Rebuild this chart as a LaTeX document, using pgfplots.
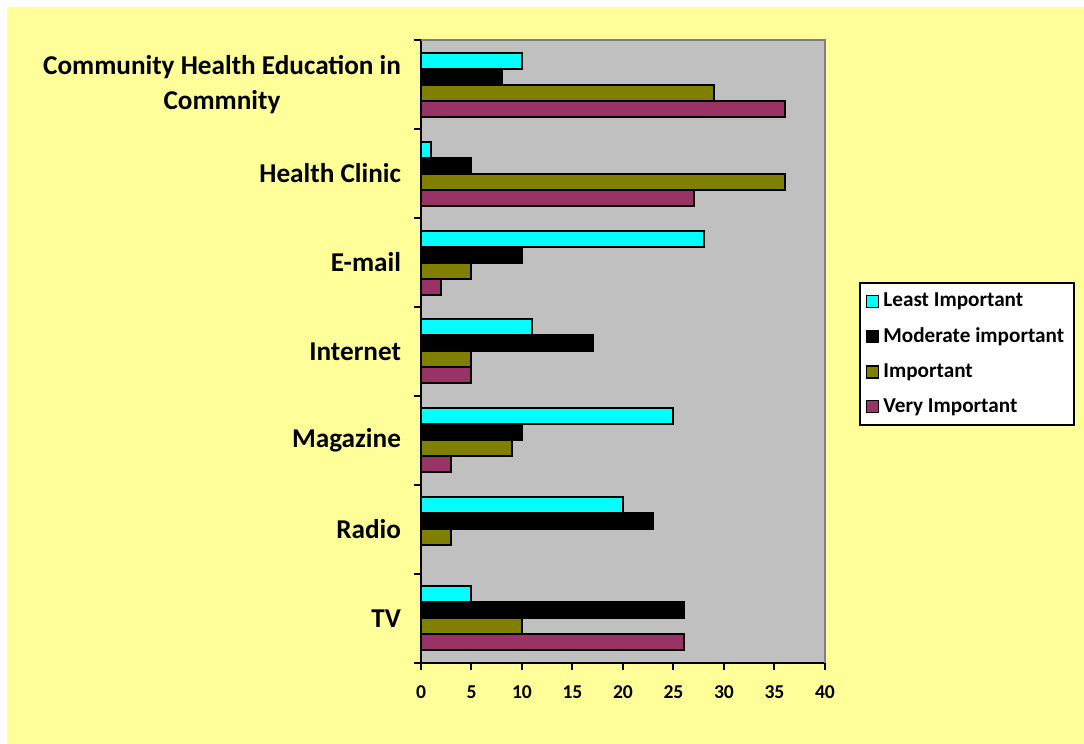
\documentclass[border=0pt]{standalone}
\usepackage{fontspec}
\setmainfont{Carlito}
\usepackage{pgfplots}
\pgfplotsset{compat=1.18}
\definecolor{bgyellow}{HTML}{FFFF99}
\definecolor{plotgray}{HTML}{C0C0C0}
\definecolor{cLeast}{HTML}{00FFFF}
\definecolor{cImp}{HTML}{808000}
\definecolor{cVery}{HTML}{993366}
\begin{document}
\begin{tikzpicture}
\fill[white] (-210.5pt,-40.5pt) rectangle (331.5pt,331.5pt);
\fill[bgyellow] (-207pt,-40.5pt) rectangle (331.5pt,328pt);
\begin{axis}[
  at={(0,0)}, anchor=south west,
  scale only axis, width=202pt, height=311.5pt,
  xbar, bar width=8pt,
  axis lines=left, axis line style={-, line width=1pt, black},
  axis background/.style={fill=plotgray},
  xmin=0, xmax=40, xtick={0,5,...,40},
  ymin=-0.5, ymax=6.5,
  ytick={0,...,6},
  yticklabels={TV,Radio,Magazine,Internet,E-mail,Health Clinic,{Community Health Education in\\Commnity}},
  minor ytick={-0.5,0.5,...,6.5},
  tick align=outside,
  major tick length=3.5pt, minor tick length=3.5pt,
  major y tick style={draw=none},
  minor y tick style={draw=black, line width=1pt},
  major x tick style={draw=black, line width=1pt},
  yticklabel style={font=\bfseries\fontsize{13.6}{17.5}\selectfont, align=center, xshift=-3pt},
  xticklabel style={font=\bfseries\fontsize{9.8}{11}\selectfont, yshift=-4.5pt},
  /pgf/number format/assume math mode=true,
  legend style={at={(1.084,0.6116)}, anchor=north west, draw=black, line width=1pt, fill=white,
    font=\bfseries\fontsize{10.6}{12}\selectfont, row sep=5pt, inner xsep=3pt, inner ysep=3pt},
  legend cell align=left,
  legend image code/.code={\draw[#1, line width=0.75pt, draw=black] (0pt,-3pt) rectangle (6pt,3pt);},
  every axis plot/.append style={draw=black, line width=1pt},
  clip=false,
]
\addplot[fill=cLeast, bar shift=12pt] coordinates {(5,0) (20,1) (25,2) (11,3) (28,4) (1,5) (10,6)};
\addplot[fill=black, bar shift=4pt] coordinates {(26,0) (23,1) (10,2) (17,3) (10,4) (5,5) (8,6)};
\addplot[fill=cImp, bar shift=-4pt] coordinates {(10,0) (3,1) (9,2) (5,3) (5,4) (36,5) (29,6)};
\addplot[fill=cVery, bar shift=-12pt] coordinates {(26,0) (0,1) (3,2) (5,3) (2,4) (27,5) (36,6)};
\legend{Least Important, Moderate important, Important, Very Important}
\draw[line width=1pt, color=gray] (rel axis cs:0,1) -- (rel axis cs:1,1) -- (rel axis cs:1,0);
\end{axis}
\pgfresetboundingbox
\path[use as bounding box] (-210.5pt,-40.5pt) rectangle (331.5pt,331.5pt);
\end{tikzpicture}
\end{document}
